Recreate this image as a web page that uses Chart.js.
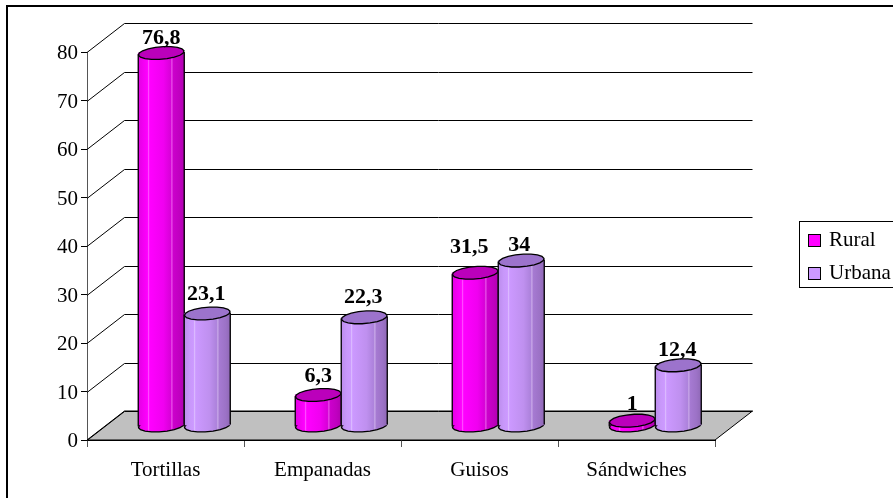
<!DOCTYPE html>
<html>
<head>
<meta charset="utf-8">
<style>
  html, body { margin: 0; padding: 0; background: #fff; overflow: hidden; }
  canvas { display: block; }
</style>
<script src="https://cdn.jsdelivr.net/npm/chart.js@4"></script>
</head>
<body>
<canvas id="chart" width="893" height="498"></canvas>
<script>
const categories = ['Tortillas', 'Empanadas', 'Guisos', 'Sándwiches'];
const rural = [76.8, 6.3, 31.5, 1];
const urbana = [23.1, 22.3, 34, 12.4];
const yTicks = [0, 10, 20, 30, 40, 50, 60, 70, 80];

const SERIF = '"Liberation Serif", "Times New Roman", serif';

// 3D look: the back wall sits up and to the right of the axes
const DEPTH_X = 37.5;
const DEPTH_Y = -29;
const BAR_W = 46;

// label nudges [x, y] per series and category
const labelNudge = [
  [[0, -9], [0, -13], [-6, -20], [0, -11]],
  [[-1, -13], [-1, -14], [-2, -10], [-1, -9]]
];

const colors = [
  {
    side: [[0, '#e400e4'], [0.12, '#f400f4'], [0.2, '#ff00ff'], [0.22, '#ff50ff'], [0.25, '#ff00ff'],
           [0.55, '#f000f0'], [0.7, '#d800d8'], [0.73, '#e850e8'], [0.76, '#cc00cc'], [0.9, '#bf00bf'], [1, '#b000b0']],
    top: '#bb00bb',
    swatch: '#ff00ff'
  },
  {
    side: [[0, '#bc8ced'], [0.12, '#c898fa'], [0.2, '#cc99ff'], [0.22, '#dcbcff'], [0.25, '#cc99ff'],
           [0.55, '#bf90ef'], [0.7, '#ad82dc'], [0.73, '#c8a8e8'], [0.76, '#a67ad2'], [0.9, '#9c72c6'], [1, '#8f68b6']],
    top: '#9c73cc',
    swatch: '#cc99ff'
  }
];

// outline of a bar's disc, sheared along the depth direction
function discPath(ctx, cx, cy) {
  ctx.beginPath();
  for (let i = 0; i < 18; i++) {
    const t = i / 18 * Math.PI * 2;
    const x = cx + 22 * Math.cos(t) + 6 * Math.sin(t);
    const y = cy - 6.5 * Math.sin(t);
    if (i === 0) ctx.moveTo(x, y); else ctx.lineTo(x, y);
  }
  ctx.closePath();
}

function sideGradient(ctx, cx, stops) {
  const g = ctx.createLinearGradient(cx - BAR_W / 2, 0, cx + BAR_W / 2, 0);
  stops.forEach(([at, c]) => g.addColorStop(at, c));
  return g;
}

function barFill(context) {
  const { chart, dataIndex, datasetIndex } = context;
  const xScale = chart.scales.x;
  const fallback = colors[datasetIndex].swatch;
  if (!xScale || dataIndex === undefined) return fallback;
  const cx = xScale.getPixelForValue(dataIndex) + (datasetIndex === 0 ? -BAR_W / 2 : BAR_W / 2);
  // scales have no pixels yet during the first options pass
  if (!Number.isFinite(cx)) return fallback;
  return sideGradient(chart.ctx, cx, colors[datasetIndex].side);
}

// foot, library bar, outline and top disc of one series
function drawSeries(chart, index) {
  const { ctx, scales: { y } } = chart;
  const meta = chart.getDatasetMeta(index);
  const c = colors[index];
  const base = y.getPixelForValue(0) + DEPTH_Y / 2;

  ctx.save();
  ctx.strokeStyle = '#000';
  ctx.lineWidth = 1.3;

  meta.data.forEach(bar => {
    const cx = bar.x + DEPTH_X / 2;
    discPath(ctx, cx, base);
    ctx.fillStyle = sideGradient(ctx, cx, c.side);
    ctx.fill();
    ctx.stroke();
  });

  ctx.save();
  ctx.translate(DEPTH_X / 2, DEPTH_Y / 2);
  meta.data.forEach(bar => bar.draw(ctx));
  ctx.restore();

  meta.data.forEach(bar => {
    const cx = bar.x + DEPTH_X / 2;
    const top = bar.y + DEPTH_Y / 2;
    ctx.beginPath();
    ctx.moveTo(cx - BAR_W / 2, top + 1);
    ctx.lineTo(cx - BAR_W / 2, base + 1);
    ctx.moveTo(cx + BAR_W / 2, top - 1);
    ctx.lineTo(cx + BAR_W / 2, base - 1);
    ctx.stroke();
    discPath(ctx, cx, top);
    ctx.fillStyle = c.top;
    ctx.fill();
    ctx.stroke();
  });
  ctx.restore();
}

const wallPlugin = {
  id: 'wall',
  beforeDatasetsDraw(chart) {
    const { ctx, scales: { x, y } } = chart;
    const left = x.left, right = x.right, y0 = y.getPixelForValue(0);

    // grey floor
    ctx.save();
    ctx.beginPath();
    ctx.moveTo(left, y0);
    ctx.lineTo(left + DEPTH_X, y0 + DEPTH_Y);
    ctx.lineTo(right + DEPTH_X, y0 + DEPTH_Y);
    ctx.lineTo(right, y0);
    ctx.closePath();
    ctx.fillStyle = '#c0c0c0';
    ctx.fill();
    ctx.strokeStyle = '#000';
    ctx.lineWidth = 1;
    ctx.stroke();

    // gridlines run back from the axis and along the wall
    yTicks.forEach(v => {
      const py = Math.round(y.getPixelForValue(v)) + 0.5;
      ctx.beginPath();
      ctx.moveTo(left, py);
      ctx.lineTo(left + DEPTH_X, py + DEPTH_Y);
      ctx.lineTo(right + DEPTH_X, py + DEPTH_Y);
      ctx.stroke();
    });
    ctx.restore();

    // Urbana has to overlap Rural, the reverse of the default dataset order
    drawSeries(chart, 0);
    drawSeries(chart, 1);
  },
  beforeDatasetDraw() {
    return false;
  },
  afterDatasetsDraw(chart) {
    // value labels, with a decimal comma
    const { ctx } = chart;
    ctx.save();
    ctx.font = 'bold 22px ' + SERIF;
    ctx.fillStyle = '#000';
    ctx.textAlign = 'center';
    ctx.textBaseline = 'alphabetic';
    chart.data.datasets.forEach((ds, i) => {
      chart.getDatasetMeta(i).data.forEach((bar, j) => {
        const label = String(ds.data[j]).replace('.', ',');
        const [nx, ny] = labelNudge[i][j];
        ctx.fillText(label, bar.x + DEPTH_X / 2 + nx, bar.y + DEPTH_Y / 2 + ny);
      });
    });
    ctx.restore();
  },
  afterDraw(chart) {
    const { ctx } = chart;
    ctx.save();

    // outer frame, only the left and top edges fall on the canvas
    ctx.strokeStyle = '#000';
    ctx.lineWidth = 2;
    ctx.beginPath();
    ctx.moveTo(7, 498);
    ctx.lineTo(7, 6);
    ctx.lineTo(893, 6);
    ctx.stroke();

    // legend box
    ctx.lineWidth = 1;
    ctx.fillStyle = '#fff';
    ctx.fillRect(799.5, 221.5, 100, 66);
    ctx.strokeRect(799.5, 221.5, 100, 66);
    ctx.font = '21px ' + SERIF;
    ctx.textBaseline = 'middle';
    chart.data.datasets.forEach((ds, i) => {
      const py = 234.5 + i * 33;
      ctx.fillStyle = colors[i].swatch;
      ctx.fillRect(808.5, py, 12, 12);
      ctx.strokeRect(808.5, py, 12, 12);
      ctx.fillStyle = '#000';
      ctx.fillText(ds.label, 829, py + 6);
    });
    ctx.restore();
  }
};

new Chart(document.getElementById('chart').getContext('2d'), {
  type: 'bar',
  data: {
    labels: categories,
    datasets: [
      { label: 'Rural', data: rural, barThickness: BAR_W, backgroundColor: barFill, borderWidth: 0 },
      { label: 'Urbana', data: urbana, barThickness: BAR_W, backgroundColor: barFill, borderWidth: 0 }
    ]
  },
  options: {
    responsive: false,
    animation: false,
    devicePixelRatio: 1,
    layout: { padding: { left: 0, right: 178, top: 52, bottom: 0 } },
    plugins: { legend: { display: false }, tooltip: { enabled: false } },
    scales: {
      x: {
        afterFit(scale) { scale.height = 58; },
        border: { color: '#000', width: 1 },
        grid: { drawOnChartArea: false, color: '#555', tickLength: 7 },
        ticks: { color: '#000', padding: 11, maxRotation: 0, font: { family: SERIF, size: 21 } }
      },
      y: {
        min: 0,
        max: 80,
        afterFit(scale) { scale.width = 87; },
        border: { color: '#555', width: 1 },
        grid: { drawOnChartArea: false, color: '#000', tickLength: 6 },
        ticks: { color: '#000', padding: 3, stepSize: 10, labelOffset: 1.5, font: { family: SERIF, size: 21 } }
      }
    }
  },
  plugins: [wallPlugin]
});
</script>
</body>
</html>
